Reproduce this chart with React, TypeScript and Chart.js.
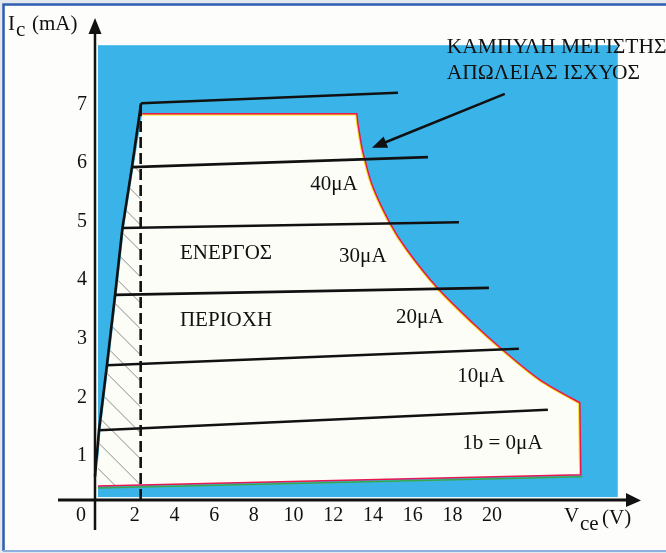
import React, { useEffect, useRef } from "react";
import { Chart, registerables } from "chart.js";

Chart.register(...registerables);

// ---- axis ticks ----
const X_TICKS = [2, 4, 6, 8, 10, 12, 14, 16, 18, 20];
const Y_TICKS = [1, 2, 3, 4, 5, 6, 7];

// ---- collector characteristic lines (Ib curves) ----
const IB_LABELS = ["50μA", "40μA", "30μA", "20μA", "10μA", "0μA"];
const IB_X_START = [2.32, 1.86, 1.38, 1.01, 0.6, 0.2];
const IB_Y_START = [7.02, 5.93, 4.89, 3.75, 2.55, 1.44];
const IB_X_END = [15.26, 16.77, 18.33, 19.84, 21.35, 22.81];
const IB_Y_END = [7.2, 6.1, 4.99, 3.87, 2.83, 1.79];

// ---- saturation line ----
const SAT_X = [0, 0.2, 0.6, 1.01, 1.38, 1.86, 2.32];
const SAT_Y = [0.65, 1.44, 2.55, 3.75, 4.89, 5.93, 7.02];

// ---- Vce(sat) dashed line ----
const VSAT_X = [2.3, 2.3];
const VSAT_Y = [0.25, 7.02];

// ---- safe operating area (white region) ----
const SOA_LEFT_X = [0.15, 0.15, 0.28, 0.68, 1.09, 1.46, 1.94, 2.38];
const SOA_LEFT_Y = [0.49, 0.9, 1.44, 2.55, 3.75, 4.89, 5.93, 6.84];
// maximum power dissipation curve
const SOA_CURVE_X = [13.19, 13.24, 13.44, 13.6, 14.0, 14.85, 15.71, 17.22, 19.03, 20.54, 22.41, 24.42, 24.47];
const SOA_CURVE_Y = [6.84, 6.68, 6.27, 6.05, 5.59, 4.98, 4.52, 3.88, 3.27, 2.81, 2.3, 1.91, 0.68];

// ---- hatched saturation region upper limit ----
const HATCH_TOP_Y = 6.3;

// ---- blue background extent ----
const BG_X = [0.15, 26.33];
const BG_Y = [0.3, 8.01];

// ---- annotation arrow (max power dissipation curve) ----
const ARROW_X = [20.64, 13.95];
const ARROW_Y = [7.18, 6.26];

// ---- text labels (data coordinates) ----
const REGION_LABELS = [
  { text: "40μA", x: 12.03, y: 5.63 },
  { text: "30μA", x: 13.49, y: 4.41 },
  { text: "20μA", x: 16.36, y: 3.36 },
  { text: "10μA", x: 19.44, y: 2.35 },
  { text: "1b = 0μA", x: 20.52, y: 1.22 },
  { text: "ΕΝΕΡΓΟΣ", x: 6.6, y: 4.45 },
  { text: "ΠΕΡΙΟΧΗ", x: 6.6, y: 3.32 },
];
const TITLE_LINES = ["ΚΑΜΠΥΛΗ ΜΕΓΙΣΤΗΣ", "ΑΠΩΛΕΙΑΣ ΙΣΧΥΟΣ"];
const TITLE_X = 17.72;
const TITLE_Y = [7.98, 7.53];

const BLUE = "#3ab4e8";
const SERIF = '"Liberation Serif", "DejaVu Serif", serif';

function smoothTo(ctx: CanvasRenderingContext2D, pts: number[][]) {
  for (let i = 0; i < pts.length - 1; i++) {
    const p0 = pts[i - 1] || pts[i];
    const p1 = pts[i];
    const p2 = pts[i + 1];
    const p3 = pts[i + 2] || p2;
    ctx.bezierCurveTo(
      p1[0] + (p2[0] - p0[0]) / 6,
      p1[1] + (p2[1] - p0[1]) / 6,
      p2[0] - (p3[0] - p1[0]) / 6,
      p2[1] - (p3[1] - p1[1]) / 6,
      p2[0],
      p2[1]
    );
  }
}

const decorPlugin = {
  id: "decor",
  beforeDraw(chart: any) {
    const { ctx, width, height } = chart;
    const xs = chart.scales.x;
    const ys = chart.scales.y;
    const px = (v: number) => xs.getPixelForValue(v);
    const py = (v: number) => ys.getPixelForValue(v);
    ctx.save();
    // page + frame
    ctx.fillStyle = "#e3e8ef";
    ctx.fillRect(0, 0, width, height);
    ctx.fillStyle = "#fdfdfb";
    ctx.fillRect(5, 6, width - 5, height - 8);
    ctx.strokeStyle = "#2f60b0";
    ctx.lineWidth = 2.5;
    ctx.beginPath();
    ctx.moveTo(3.5, height - 2);
    ctx.lineTo(3.5, 4.5);
    ctx.lineTo(width, 4.5);
    ctx.stroke();
    ctx.strokeStyle = "#8db0df";
    ctx.lineWidth = 2;
    ctx.beginPath();
    ctx.moveTo(3, height - 2);
    ctx.lineTo(width, height - 2);
    ctx.stroke();

    // blue background
    ctx.fillStyle = BLUE;
    ctx.fillRect(px(BG_X[0]), py(BG_Y[1]), px(BG_X[1]) - px(BG_X[0]), py(BG_Y[0]) - py(BG_Y[1]));

    // SOA polygon
    const left = SOA_LEFT_X.map((x, i) => [px(x), py(SOA_LEFT_Y[i])]);
    const curve = SOA_CURVE_X.map((x, i) => [px(x), py(SOA_CURVE_Y[i])]);
    const smoothPart = curve.slice(1, curve.length - 1);
    const last = curve[curve.length - 1];
    const topLeft = left[left.length - 1];
    const boundary = () => {
      ctx.lineTo(curve[0][0], curve[0][1]);
      ctx.lineTo(smoothPart[0][0], smoothPart[0][1]);
      smoothTo(ctx, smoothPart);
      ctx.lineTo(last[0], last[1]);
    };
    const soaPath = () => {
      ctx.beginPath();
      left.forEach(([x, y], i) => (i ? ctx.lineTo(x, y) : ctx.moveTo(x, y)));
      boundary();
      ctx.closePath();
    };
    soaPath();
    ctx.fillStyle = "#fdfdf8";
    ctx.fill();

    // hatching in saturation region
    ctx.save();
    ctx.beginPath();
    const hl = SOA_LEFT_X.map((x, i) => [x, SOA_LEFT_Y[i]]).filter((p) => p[1] < HATCH_TOP_Y);
    hl.forEach(([x, y], i) => (i ? ctx.lineTo(px(x), py(y)) : ctx.moveTo(px(x), py(y))));
    ctx.lineTo(px(2.12), py(HATCH_TOP_Y));
    ctx.lineTo(px(VSAT_X[0]), py(HATCH_TOP_Y));
    ctx.lineTo(px(VSAT_X[0]), py(SOA_LEFT_Y[0]));
    ctx.closePath();
    ctx.clip();
    ctx.strokeStyle = "#8a8a8a";
    ctx.lineWidth = 1;
    const top = py(HATCH_TOP_Y) - 80;
    const bot = py(0.25) + 80;
    for (let y0 = top; y0 < bot; y0 += 26) {
      ctx.beginPath();
      ctx.moveTo(px(0) - 10, y0);
      ctx.lineTo(px(0) + 80, y0 + 90);
      ctx.stroke();
    }
    ctx.restore();

    // yellow inner border (top + curve)
    ctx.save();
    soaPath();
    ctx.clip();
    ctx.strokeStyle = "#f3df1e";
    ctx.lineWidth = 3.6;
    ctx.beginPath();
    ctx.moveTo(topLeft[0], topLeft[1]);
    boundary();
    ctx.stroke();
    ctx.restore();

    // green under bottom edge
    ctx.strokeStyle = "#3aa84a";
    ctx.lineWidth = 1.6;
    ctx.beginPath();
    ctx.moveTo(last[0] + 1.5, last[1] + 2);
    ctx.lineTo(left[0][0], left[0][1] + 2);
    ctx.stroke();

    // red border
    ctx.strokeStyle = "#e8174f";
    ctx.lineWidth = 1.5;
    ctx.beginPath();
    ctx.moveTo(topLeft[0], topLeft[1]);
    boundary();
    ctx.lineTo(left[0][0], left[0][1]);
    ctx.stroke();
    ctx.restore();
  },
  afterDatasetsDraw(chart: any) {
    const { ctx } = chart;
    const xs = chart.scales.x;
    const ys = chart.scales.y;
    const px = (v: number) => xs.getPixelForValue(v);
    const py = (v: number) => ys.getPixelForValue(v);
    const area = chart.chartArea;
    ctx.save();
    ctx.strokeStyle = "#111";
    ctx.fillStyle = "#111";
    // y axis
    const x0 = px(0);
    ctx.lineWidth = 2.5;
    ctx.beginPath();
    ctx.moveTo(x0, 530);
    ctx.lineTo(x0, area.top + 12);
    ctx.stroke();
    ctx.beginPath();
    ctx.moveTo(x0, area.top - 2);
    ctx.lineTo(x0 - 6.5, area.top + 14);
    ctx.lineTo(x0 + 6.5, area.top + 14);
    ctx.closePath();
    ctx.fill();
    // x axis
    const y0 = area.bottom;
    ctx.lineWidth = 3;
    ctx.beginPath();
    ctx.moveTo(58, y0);
    ctx.lineTo(area.right - 12, y0);
    ctx.stroke();
    ctx.beginPath();
    ctx.moveTo(area.right + 1, y0 + 0.5);
    ctx.lineTo(area.right - 14, y0 - 7);
    ctx.lineTo(area.right - 14, y0 + 7);
    ctx.closePath();
    ctx.fill();

    // annotation arrow
    const ax0 = px(ARROW_X[0]), ay0 = py(ARROW_Y[0]);
    const ax1 = px(ARROW_X[1]), ay1 = py(ARROW_Y[1]);
    const ang = Math.atan2(ay1 - ay0, ax1 - ax0);
    ctx.lineWidth = 2.5;
    ctx.beginPath();
    ctx.moveTo(ax0, ay0);
    ctx.lineTo(ax1 - 8 * Math.cos(ang), ay1 - 8 * Math.sin(ang));
    ctx.stroke();
    ctx.beginPath();
    ctx.moveTo(ax1, ay1);
    ctx.lineTo(ax1 - 15 * Math.cos(ang) + 6 * Math.sin(ang), ay1 - 15 * Math.sin(ang) - 6 * Math.cos(ang));
    ctx.lineTo(ax1 - 15 * Math.cos(ang) - 6 * Math.sin(ang), ay1 - 15 * Math.sin(ang) + 6 * Math.cos(ang));
    ctx.closePath();
    ctx.fill();

    // region labels
    ctx.font = `21px ${SERIF}`;
    ctx.textAlign = "center";
    ctx.textBaseline = "middle";
    REGION_LABELS.forEach((l) => ctx.fillText(l.text, px(l.x), py(l.y)));

    // title
    ctx.textAlign = "left";
    ctx.font = `21.5px ${SERIF}`;
    TITLE_LINES.forEach((t, i) => ctx.fillText(t, px(TITLE_X), py(TITLE_Y[i])));

    // axis titles
    ctx.textBaseline = "alphabetic";
    ctx.font = `21px ${SERIF}`;
    ctx.fillText("I", 8, 30);
    ctx.fillText("c", 16, 36);
    ctx.fillText("(mA)", 32, 30);
    ctx.fillText("V", 564, 522);
    ctx.fillText("ce", 580, 530);
    ctx.fillText("(V)", 602, 524);
    ctx.font = `20px ${SERIF}`;
    ctx.textAlign = "center";
    ctx.textBaseline = "middle";
    ctx.fillText("0", 81, 516);
    ctx.restore();
  },
};

export default function App() {
  const ref = useRef<HTMLCanvasElement | null>(null);
  useEffect(() => {
    document.body.style.margin = "0";
    const canvas = ref.current;
    if (!canvas) return;
    const line = (pts: { x: number; y: number }[], extra: any = {}) => ({
      type: "line",
      data: pts,
      borderColor: "#111",
      borderWidth: 2.6,
      pointRadius: 0,
      fill: false,
      clip: false,
      tension: 0,
      ...extra,
    });
    const datasets: any[] = [
      ...IB_LABELS.map((lab, i) =>
        line(
          [
            { x: IB_X_START[i], y: IB_Y_START[i] },
            { x: IB_X_END[i], y: IB_Y_END[i] },
          ],
          { label: lab }
        )
      ),
      line(SAT_X.map((x, i) => ({ x, y: SAT_Y[i] })), { label: "saturation" }),
      line(VSAT_X.map((x, i) => ({ x, y: VSAT_Y[i] })), { label: "Vce(sat)", borderDash: [11, 5], borderWidth: 2.6 }),
    ];
    const chart = new Chart(canvas, {
      type: "line",
      data: { datasets },
      options: {
        responsive: false,
        animation: false,
        devicePixelRatio: 1,
        layout: { padding: { top: 20, right: 26, bottom: 0, left: 0 } },
        plugins: { legend: { display: false }, tooltip: { enabled: false } },
        scales: {
          x: {
            type: "linear",
            min: 0,
            max: 27.45,
            grid: { display: false, drawTicks: false },
            border: { display: false },
            ticks: {
              font: { family: "Liberation Serif", size: 20 },
              color: "#111",
              padding: 4,
              autoSkip: false,
              maxRotation: 0,
              callback: (v: any) => String(v),
            },
            afterBuildTicks: (s: any) => {
              s.ticks = X_TICKS.map((v) => ({ value: v }));
            },
            afterFit: (s: any) => {
              s.height = 53;
            },
          },
          y: {
            type: "linear",
            min: 0.25,
            max: 8.44,
            grid: { display: false, drawTicks: false },
            border: { display: false },
            ticks: {
              font: { family: "Liberation Serif", size: 20 },
              color: "#111",
              padding: 8,
              autoSkip: false,
              callback: (v: any) => String(v),
            },
            afterBuildTicks: (s: any) => {
              s.ticks = Y_TICKS.map((v) => ({ value: v }));
            },
            afterFit: (s: any) => {
              s.width = 95;
            },
          },
        },
      } as any,
      plugins: [decorPlugin],
    });
    return () => chart.destroy();
  }, []);
  return <canvas ref={ref} width={666} height={553} style={{ display: "block" }} />;
}
